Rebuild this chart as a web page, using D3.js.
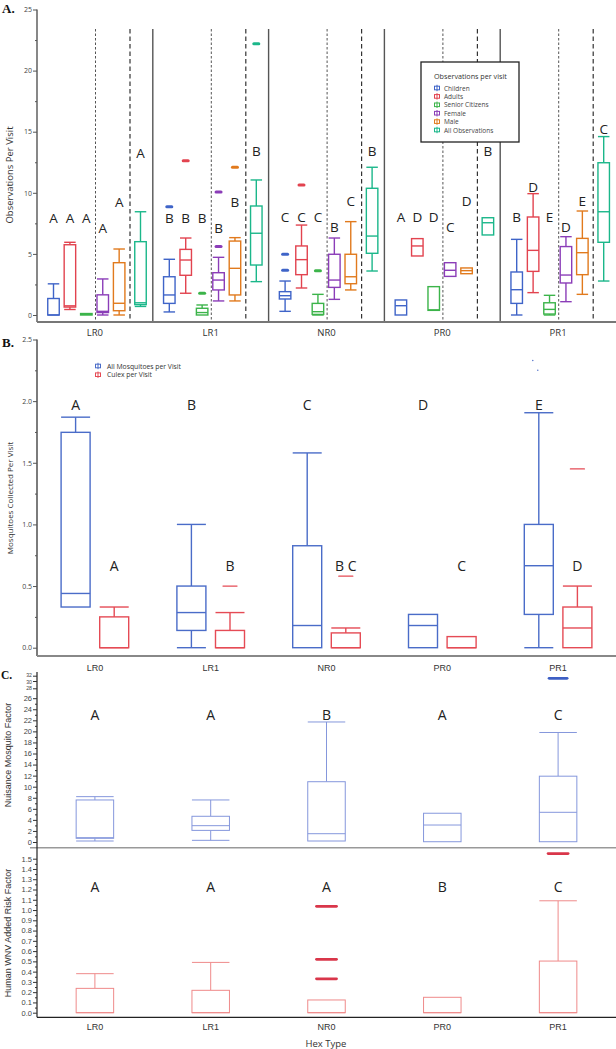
<!DOCTYPE html>
<html><head><meta charset="utf-8">
<script src="https://cdn.jsdelivr.net/npm/d3@7"></script>
<style>body{margin:0;background:#fff}svg{display:block}</style>
</head><body><svg id="c" width="616" height="1049"></svg>
<script>
// ---------- DATA ----------
const hexTypes = ["LR0","LR1","NR0","PR0","PR1"];
const obsSeries = ["Children","Adults","Senior Citizens","Female","Male","All Observations"];
// [min, q1, median, q3, max] per hex type
const childrenBox = [[0,0,0,1.35,2.55],[0.25,0.95,1.64,3.13,4.56],[0.3,1.31,1.58,1.91,2.78],[0,0,0.76,1.23,1.23],[0,0.95,2.07,3.52,6.19]];
const adultsBox   = [[0.45,0.65,0.75,5.75,5.95],[1.78,3.25,4.5,5.37,6.3],[2.21,3.3,4.53,5.65,7.36],[4.83,4.83,5.65,6.25,6.25],[1.83,3.57,5.29,8.02,9.93]];
const seniorsBox  = [[0,0,0.05,0.12,0.12],[0,0,0.2,0.55,0.82],[0,0.05,0.27,0.95,1.69],[0.38,0.38,0.42,2.32,2.32],[0,0.08,0.46,1.0,1.61]];
const femaleBox   = [[0,0.2,0.3,1.65,2.95],[1.15,2.05,2.86,3.46,4.72],[1.28,2.26,2.86,4.97,6.3],[3.16,3.16,3.66,4.28,4.28],[1.09,2.62,3.27,5.6,6.41]];
const maleBox     = [[0,0.35,0.96,4.28,5.4],[1.15,1.64,3.82,6.05,6.33],[2.05,2.56,3.13,4.97,7.64],[3.38,3.38,3.63,3.85,3.85],[1.69,3.3,5.1,6.27,8.51]];
const allObsBox   = [[0.7,0.85,1.0,6.0,8.45],[2.73,4.09,6.69,8.92,11.05],[3.6,5.05,6.46,10.37,12.09],[6.55,6.55,7.55,7.96,7.96],[2.78,5.95,8.45,12.46,14.6]];
const childrenOut = [[],[8.86],[4.97,3.66],[],[]];
const adultsOut   = [[],[12.63],[10.64],[],[]];
const seniorsOut  = [[],[1.78],[3.63],[],[]];
const femaleOut   = [[],[10.07,5.6],[],[],[]];
const maleOut     = [[],[12.09],[],[],[]];
const allObsOut   = [[],[22.2],[],[],[]];
const childrenLetters = ["A","B","C","A","B"];
const adultsLetters   = ["A","B","C","D","D"];
const seniorsLetters  = ["A","B","C","D","E"];
const femaleLetters   = ["A","B","B","C","D"];
const maleLetters     = ["A","B","C","D","E"];
const allObsLetters   = ["A","B","B","B","C"];
const childrenLetterAt = [7.9,7.9,8.0,8.0,8.0];
const adultsLetterAt   = [7.9,7.9,8.0,8.0,10.5];
const seniorsLetterAt  = [7.9,7.9,8.0,8.0,8.0];
const femaleLetterAt   = [7.1,7.1,7.23,7.23,7.23];
const maleLetterAt     = [9.25,9.27,9.35,9.35,9.35];
const allObsLetterAt   = [13.25,13.4,13.4,13.4,15.2];
const obsTicks = [0,5,10,15,20,25];

const mosqSeries = ["All Mosquitoes per Visit","Culex per Visit"];
const mosqAllBox = [[0.33,0.33,0.44,1.747,1.87],[0,0.14,0.285,0.5,1.0],[0,0,0.18,0.827,1.58],[0,0,0.18,0.27,0.27],[0,0.27,0.665,1.0,1.906]];
const culexBox   = [[0,0,0,0.25,0.33],[0,0,0,0.14,0.285],[0,0,0,0.12,0.16],[0,0,0,0.09,0.09],[0,0,0.16,0.33,0.5]];
const mosqAllOut = [[],[],[],[],[2.33,2.25]];
const culexOut   = [[],[0.5],[0.58],[],[1.45]];
const mosqAllLetters = ["A","B","C","D","E"];
const culexLetters   = ["A","B","B C","C","D"];
const mosqAllLetterAt = [1.97,1.97,1.97,1.97,1.97];
const culexLetterAt   = [0.665,0.665,0.665,0.665,0.665];
const mosqTicks = [0,0.5,1.0,1.5,2.0,2.5];

const nuisanceBox = [[0.18,0.67,0.78,7.6,8.2],[0.3,2.1,2.95,4.65,7.6],[0.18,0.18,1.5,10.9,21.7],[0.05,0.05,3.07,5.2,5.2],[0.05,0.05,5.37,11.9,19.8]];
const nuisanceOut = [[],[],[],[],[31]];
const nuisanceLetters = ["A","A","B","A","C"];
const nuisanceLetterAt = [23.1,23.1,23.1,23.1,23.1];
const nuisanceTicks = d3.range(0,33,2);
const riskBox = [[0,0,0,0.237,0.38],[0,0,0,0.218,0.49],[0,0,0,0.124,0.124],[0,0,0,0.15,0.15],[0,0,0,0.503,1.09]];
const riskOut = [[],[],[1.036,0.52,0.33],[],[1.55]];
const riskLetters = ["A","A","A","B","C"];
const riskLetterAt = [1.227,1.227,1.227,1.227,1.227];
const riskTicks = d3.range(0,16).map(d=>d/10);

// ---------- STYLE / LAYOUT ----------
const obsColors = ["#3f64c8","#e2434f","#3cb44a","#8b3db8","#e17a1d","#1bb78a"];
const mosqColors = ["#4a6cc8","#e54b55"];
const nuisColor = "#8597dc", nuisOutColor = "#3d5fc4";
const riskColor = "#ef8a8a", riskOutColor = "#d9364a";
const obsSlot = [0,1,2,3,4,5.3];
const FONT = "'Open Sans', 'Noto Sans', sans-serif";
const FONT2 = "'Liberation Sans', Arial, sans-serif";

const svg = d3.select("#c");
const xG = d3.scaleBand().domain(hexTypes).range([37,616]);
const xC = h => xG(h) + xG.bandwidth()/2;

function boxPlot(g, cx, w, s, y, color, sw) {
  const [mn,q1,md,q3,mx] = s;
  const gg = g.append("g").attr("stroke",color).attr("stroke-width",sw).attr("fill","none");
  if (mx > q3) {
    gg.append("line").attr("x1",cx).attr("x2",cx).attr("y1",y(q3)).attr("y2",y(mx));
    gg.append("line").attr("x1",cx-w/2).attr("x2",cx+w/2).attr("y1",y(mx)).attr("y2",y(mx));
  }
  if (mn < q1) {
    gg.append("line").attr("x1",cx).attr("x2",cx).attr("y1",y(q1)).attr("y2",y(mn));
    gg.append("line").attr("x1",cx-w/2).attr("x2",cx+w/2).attr("y1",y(mn)).attr("y2",y(mn));
  }
  gg.append("rect").attr("x",cx-w/2).attr("y",y(q3)).attr("width",w).attr("height",Math.max(0.01,y(q1)-y(q3))).attr("fill","#fff");
  gg.append("line").attr("x1",cx-w/2).attr("x2",cx+w/2).attr("y1",y(md)).attr("y2",y(md));
}
function outliers(g, cx, w, vals, y, color, sw) {
  vals.forEach(v => g.append("line").attr("x1",cx-w/2).attr("x2",cx+w/2).attr("y1",y(v)).attr("y2",y(v))
    .attr("stroke",color).attr("stroke-width",sw).attr("stroke-linecap","round"));
}
function letter(g, cx, yy, t, font, size) {
  g.append("text").attr("x",cx).attr("y",yy).attr("text-anchor","middle").attr("dominant-baseline","central")
   .attr("font-family",font).attr("font-size",size).attr("fill","#222").text(t);
}
function yAxis(g, y, ticks, minor, fmt, font, size, color) {
  const ax = g.append("g");
  ax.call(d3.axisLeft(y).tickValues(ticks).tickSize(4).tickFormat(fmt));
  ax.select(".domain").remove();
  ax.selectAll("text").attr("font-family",font).attr("font-size",size).attr("fill","#444").attr("x",-5);
  ax.selectAll(".tick line").attr("stroke",color);
  if (minor) {
    const ax2 = g.append("g");
    ax2.call(d3.axisLeft(y).tickValues(minor).tickSize(2).tickFormat(""));
    ax2.select(".domain").remove();
    ax2.selectAll(".tick line").attr("stroke",color);
  }
  return ax;
}
function panelLabel(t, x, y, size) {
  svg.append("text").attr("x",x).attr("y",y).attr("font-family","'Liberation Serif', 'DejaVu Serif', serif")
    .attr("font-weight","bold").attr("font-size",size).attr("fill","#111").text(t);
}
function yTitle(t, x, y, font, size) {
  svg.append("text").attr("transform",`translate(${x},${y}) rotate(-90)`).attr("text-anchor","middle")
    .attr("dominant-baseline","central").attr("font-family",font).attr("font-size",size).attr("fill","#333").text(t);
}

// ---------- PANEL A ----------
const gA = svg.append("g");
const yA = d3.scaleLinear().domain([0,25]).range([315,9.5]);
const slotX = d3.scaleLinear().domain([0,5.3]).range([16.5,103.5]);
const sepTop = 29, axisAY = 322;
hexTypes.forEach((h,j) => {
  const g0 = xG(h);
  if (j>0) gA.append("line").attr("x1",g0).attr("x2",g0).attr("y1",sepTop).attr("y2",axisAY).attr("stroke","#555").attr("stroke-width",1.4);
  gA.append("line").attr("x1",g0+58.5).attr("x2",g0+58.5).attr("y1",sepTop).attr("y2",axisAY).attr("stroke","#555").attr("stroke-width",1).attr("stroke-dasharray","2.5,2");
  gA.append("line").attr("x1",g0+93).attr("x2",g0+93).attr("y1",sepTop).attr("y2",axisAY).attr("stroke","#333").attr("stroke-width",1.2).attr("stroke-dasharray","4.5,3");
});
const obsBoxes = [childrenBox,adultsBox,seniorsBox,femaleBox,maleBox,allObsBox];
const obsOuts = [childrenOut,adultsOut,seniorsOut,femaleOut,maleOut,allObsOut];
const obsLetters = [childrenLetters,adultsLetters,seniorsLetters,femaleLetters,maleLetters,allObsLetters];
const obsLetterAt = [childrenLetterAt,adultsLetterAt,seniorsLetterAt,femaleLetterAt,maleLetterAt,allObsLetterAt];
obsSeries.forEach((s,i) => {
  hexTypes.forEach((h,j) => {
    const cx = xG(h) + slotX(obsSlot[i]);
    boxPlot(gA, cx, 11.5, obsBoxes[i][j], yA, obsColors[i], 1.4);
    outliers(gA, cx, 5, obsOuts[i][j], yA, obsColors[i], 3);
    letter(gA, cx, yA(obsLetterAt[i][j]), obsLetters[i][j], FONT, 13.5);
  });
});
gA.append("line").attr("x1",37).attr("x2",37).attr("y1",9.5).attr("y2",axisAY).attr("stroke","#555").attr("stroke-width",1.4);
gA.append("line").attr("x1",37).attr("x2",616).attr("y1",axisAY).attr("y2",axisAY).attr("stroke","#777").attr("stroke-width",2);
const axAg = gA.append("g").attr("transform","translate(37,0)");
yAxis(axAg, yA, obsTicks, d3.range(0,25.1,2.5).filter(v=>v%5!==0), d3.format("d"), FONT, 7, "#555");
hexTypes.forEach(h => gA.append("text").attr("x",xC(h)).attr("y",336).attr("text-anchor","middle")
  .attr("font-family",FONT).attr("font-size",9.5).attr("fill","#333").text(h));
const lgA = gA.append("g");
lgA.append("rect").attr("x",421).attr("y",62).attr("width",98).attr("height",80).attr("fill","#fff").attr("stroke","#222").attr("stroke-width",1.3);
lgA.append("text").attr("x",434).attr("y",78.5).attr("font-family",FONT).attr("font-size",7.2).attr("fill","#333").text("Observations per visit");
obsSeries.forEach((s,i) => {
  const yy = 88 + i*8.4;
  lgA.append("rect").attr("x",434.5).attr("y",yy-1.8).attr("width",5).attr("height",3.6).attr("fill","none").attr("stroke",obsColors[i]).attr("stroke-width",1);
  lgA.append("line").attr("x1",437).attr("x2",437).attr("y1",yy-3.2).attr("y2",yy+3.2).attr("stroke",obsColors[i]).attr("stroke-width",1);
  lgA.append("text").attr("x",444).attr("y",yy).attr("dominant-baseline","central").attr("font-family",FONT).attr("font-size",6.5).attr("fill","#444").text(s);
});
panelLabel("A.", 2, 13, 13);
yTitle("Observations Per Visit", 9, 175, FONT, 9.5);

// ---------- PANEL B ----------
const gB = svg.append("g");
const yB = d3.scaleLinear().domain([0,2.5]).range([647.7,339.5]);
const axisBY = 656;
const mosqBoxes = [mosqAllBox, culexBox], mosqOuts = [mosqAllOut, culexOut];
const mosqLetters = [mosqAllLetters, culexLetters], mosqLetterAt = [mosqAllLetterAt, culexLetterAt];
const mosqOff = [-19.3, 19.3];
mosqSeries.forEach((s,i) => {
  hexTypes.forEach((h,j) => {
    const cx = xC(h) + mosqOff[i];
    boxPlot(gB, cx, 29, mosqBoxes[i][j], yB, mosqColors[i], 1.4);
    if (i===0) mosqOuts[i][j].forEach((v,k) => gB.append("circle").attr("cx",cx-6+k*5).attr("cy",yB(v)).attr("r",0.7).attr("fill",mosqColors[i]));
    else outliers(gB, cx, 14, mosqOuts[i][j], yB, mosqColors[i], 1.3);
    letter(gB, cx, yB(mosqLetterAt[i][j]), mosqLetters[i][j], FONT, 14);
  });
});
gB.append("line").attr("x1",37).attr("x2",37).attr("y1",339.5).attr("y2",axisBY).attr("stroke","#444").attr("stroke-width",1.4);
gB.append("line").attr("x1",37).attr("x2",616).attr("y1",axisBY).attr("y2",axisBY).attr("stroke","#888").attr("stroke-width",2);
const axBg = gB.append("g").attr("transform","translate(37,0)");
yAxis(axBg, yB, mosqTicks, d3.range(0,2.51,0.25).filter(v=>Math.abs(v*2-Math.round(v*2))>0.01), d3.format(".1f"), FONT, 7, "#555");
hexTypes.forEach(h => gB.append("text").attr("x",xC(h)).attr("y",671).attr("text-anchor","middle")
  .attr("font-family",FONT2).attr("font-size",9).attr("fill","#333").text(h));
mosqSeries.forEach((s,i) => {
  const yy = 366 + i*8.7;
  gB.append("rect").attr("x",95.5).attr("y",yy-1.8).attr("width",5).attr("height",3.6).attr("fill","none").attr("stroke",mosqColors[i]).attr("stroke-width",1);
  gB.append("line").attr("x1",98).attr("x2",98).attr("y1",yy-3.2).attr("y2",yy+3.2).attr("stroke",mosqColors[i]).attr("stroke-width",1);
  gB.append("text").attr("x",107).attr("y",yy).attr("dominant-baseline","central").attr("font-family",FONT).attr("font-size",6.8).attr("fill","#333").text(s);
});
panelLabel("B.", 2, 347, 13);
yTitle("Mosquitoes Collected Per Visit", 9, 498, FONT, 8);

// ---------- PANEL C ----------
const gC = svg.append("g");
const yC1 = d3.scaleLinear().domain([0,26,28,30,32]).range([842,698.2,688.3,681,675.7]);
const yC2 = d3.scaleLinear().domain([0,1.5]).range([1012.7,858.7]);
const sepY = 847.7, axisCY = 1017.3;
hexTypes.forEach((h,j) => {
  const cx = xC(h);
  boxPlot(gC, cx, 37.5, nuisanceBox[j], yC1, nuisColor, 1);
  outliers(gC, cx, 18, nuisanceOut[j], yC1, nuisOutColor, 2.8);
  letter(gC, cx, yC1(nuisanceLetterAt[j]), nuisanceLetters[j], FONT, 14);
  boxPlot(gC, cx, 37.5, riskBox[j], yC2, riskColor, 1);
  outliers(gC, cx, 20, riskOut[j], yC2, riskOutColor, 2.8);
  letter(gC, cx, yC2(riskLetterAt[j]), riskLetters[j], FONT, 14);
});
gC.append("line").attr("x1",30).attr("x2",616).attr("y1",sepY).attr("y2",sepY).attr("stroke","#999").attr("stroke-width",1.5);
gC.append("line").attr("x1",37).attr("x2",37).attr("y1",672).attr("y2",axisCY).attr("stroke","#222").attr("stroke-width",1.2);
gC.append("line").attr("x1",37).attr("x2",616).attr("y1",axisCY).attr("y2",axisCY).attr("stroke","#222").attr("stroke-width",1.3);
const axC1g = gC.append("g").attr("transform","translate(37,0)");
const axC1 = yAxis(axC1g, yC1, nuisanceTicks, d3.range(1,26,2), d3.format("d"), FONT2, 7.5, "#333");
// crowded top labels of the compressed range: smaller text
axC1.selectAll(".tick text").filter(d => d >= 28).attr("font-size",5.2);
axC1.selectAll(".tick text").filter(d => d === 32).attr("dy","0.1em");
axC1.selectAll(".tick text").filter(d => d === 30).attr("dy","0.45em");
const axC2 = gC.append("g").attr("transform","translate(37,0)");
yAxis(axC2, yC2, riskTicks, d3.range(0,15).map(d=>d/10+0.05), d3.format(".1f"), FONT2, 7.5, "#333");
hexTypes.forEach(h => gC.append("text").attr("x",xC(h)).attr("y",1030).attr("text-anchor","middle")
  .attr("font-family",FONT2).attr("font-size",9).attr("fill","#333").text(h));
gC.append("text").attr("x",326).attr("y",1046.5).attr("text-anchor","middle").attr("font-family",FONT).attr("font-size",9.5).attr("fill","#333").text("Hex Type");
panelLabel("C.", 1, 679, 11.5);
yTitle("Nuisance Mosquito Factor", 8, 755, FONT2, 9);
yTitle("Human WNV Added Risk Factor", 8, 933, FONT2, 9);
</script></body></html>
